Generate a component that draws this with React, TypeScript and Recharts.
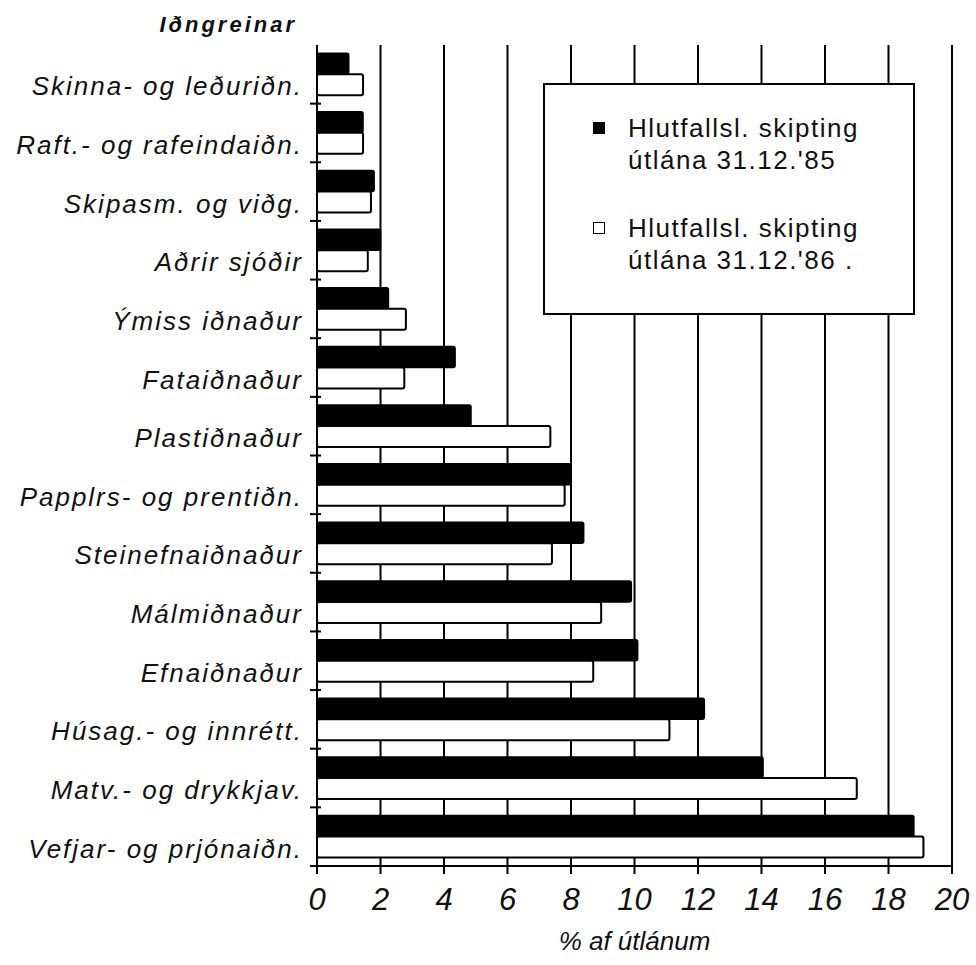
import { BarChart, Bar, XAxis, YAxis, CartesianGrid, Legend, Customized } from 'recharts';

const categories = [
  'Skinna- og leðuriðn.',
  'Raft.- og rafeindaiðn.',
  'Skipasm. og viðg.',
  'Aðrir sjóðir',
  'Ýmiss iðnaður',
  'Fataiðnaður',
  'Plastiðnaður',
  'Papplrs- og prentiðn.',
  'Steinefnaiðnaður',
  'Málmiðnaður',
  'Efnaiðnaður',
  'Húsag.- og innrétt.',
  'Matv.- og drykkjav.',
  'Vefjar- og prjónaiðn.',
];

// % af útlánum 31.12.'85 and 31.12.'86
const share85 = [1.0, 1.45, 1.8, 2.0, 2.25, 4.35, 4.85, 8.0, 8.4, 9.9, 10.1, 12.2, 14.05, 18.8];
const share86 = [1.45, 1.45, 1.7, 1.6, 2.8, 2.75, 7.35, 7.8, 7.4, 8.95, 8.7, 11.1, 17.0, 19.1];

const xTicks = [0, 2, 4, 6, 8, 10, 12, 14, 16, 18, 20];

const name85 = "Hlutfallsl. skipting útlána 31.12.'85";
const name86 = "Hlutfallsl. skipting útlána 31.12.'86 .";

const data = categories.map((name, i) => ({ name, y85: share85[i], y86: share86[i] }));

const FONT = '"Liberation Sans", Arial, Helvetica, sans-serif';
const INK = '#111';

const MARGIN = { top: 45, right: 24, left: 0, bottom: 9 };
const XAXIS_H = 90;
const CHART_H = 965;
const bandHalf = (CHART_H - MARGIN.top - MARGIN.bottom - XAXIS_H) / categories.length / 2;

function CategoryTick(props: any) {
  const { x, y, payload } = props;
  return (
    <g>
      <line x1={x + 1} x2={x + 12} y1={y + bandHalf} y2={y + bandHalf} stroke="#000" strokeWidth={2} />
      <text
        x={x - 6}
        y={y + 21}
        textAnchor="end"
        fontSize={26}
        fontStyle="italic"
        letterSpacing={2}
        fontFamily={FONT}
        fill={INK}
      >
        {payload.value}
      </text>
    </g>
  );
}

function ValueTick(props: any) {
  const { x, y, payload } = props;
  return (
    <text x={x} y={y + 34} textAnchor="middle" fontSize={31} fontStyle="italic" fontFamily={FONT} fill={INK}>
      {payload.value}
    </text>
  );
}

function LegendBox(props: any) {
  const items = props.payload || [];
  return (
    <div
      style={{
        position: 'relative',
        width: 372,
        height: 232,
        border: '2px solid #000',
        boxSizing: 'border-box',
        background: '#fff',
        fontFamily: FONT,
        fontSize: 26,
        letterSpacing: 1.5,
        lineHeight: '32px',
        color: INK,
      }}
    >
      {items.map((item: any, i: number) => (
        <div key={i}>
          <div
            style={{
              position: 'absolute',
              left: 48,
              top: 37 + i * 100,
              width: 12,
              height: 12,
              border: '1.5px solid #000',
              background: item.color === '#fff' ? '#fff' : '#000',
              boxSizing: 'border-box',
            }}
          />
          <div style={{ position: 'absolute', left: 83, top: 27 + i * 100, width: 262 }}>{item.value}</div>
        </div>
      ))}
    </div>
  );
}

function Title() {
  return (
    <text
      x={297}
      y={32}
      textAnchor="end"
      fontSize={22}
      fontWeight="bold"
      fontStyle="italic"
      letterSpacing={3}
      fontFamily={FONT}
      fill={INK}
    >
      Iðngreinar
    </text>
  );
}

export default function App() {
  return (
    <div style={{ position: 'absolute', left: 0, top: 0, background: '#fff' }}>
      <BarChart
        width={976}
        height={CHART_H}
        data={data}
        layout="vertical"
        margin={MARGIN}
        barCategoryGap="14%"
        barGap={0}
      >
        <CartesianGrid horizontal={false} stroke="#000" strokeWidth={2} />
        <XAxis
          type="number"
          domain={[0, 20]}
          ticks={xTicks}
          interval={0}
          height={XAXIS_H}
          tickSize={8}
          stroke="#000"
          strokeWidth={2}
          tick={<ValueTick />}
          label={{
            value: '% af útlánum',
            position: 'insideBottom',
            offset: 6,
            fontSize: 26,
            fontStyle: 'italic',
            fill: INK,
            fontFamily: FONT,
          }}
        />
        <YAxis
          type="category"
          dataKey="name"
          width={317}
          interval={0}
          tickLine={false}
          stroke="#000"
          strokeWidth={2}
          tick={<CategoryTick />}
        />
        <Legend
          layout="horizontal"
          verticalAlign="middle"
          align="center"
          content={<LegendBox />}
          wrapperStyle={{ left: 543, top: 83, width: 372, height: 232 }}
        />
        <Bar
          dataKey="y85"
          name={name85}
          fill="#000"
          stroke="#000"
          strokeWidth={1.5}
          radius={2}
          isAnimationActive={false}
        />
        <Bar
          dataKey="y86"
          name={name86}
          fill="#fff"
          stroke="#000"
          strokeWidth={2}
          radius={2}
          isAnimationActive={false}
        />
        <Customized component={Title} />
      </BarChart>
    </div>
  );
}
